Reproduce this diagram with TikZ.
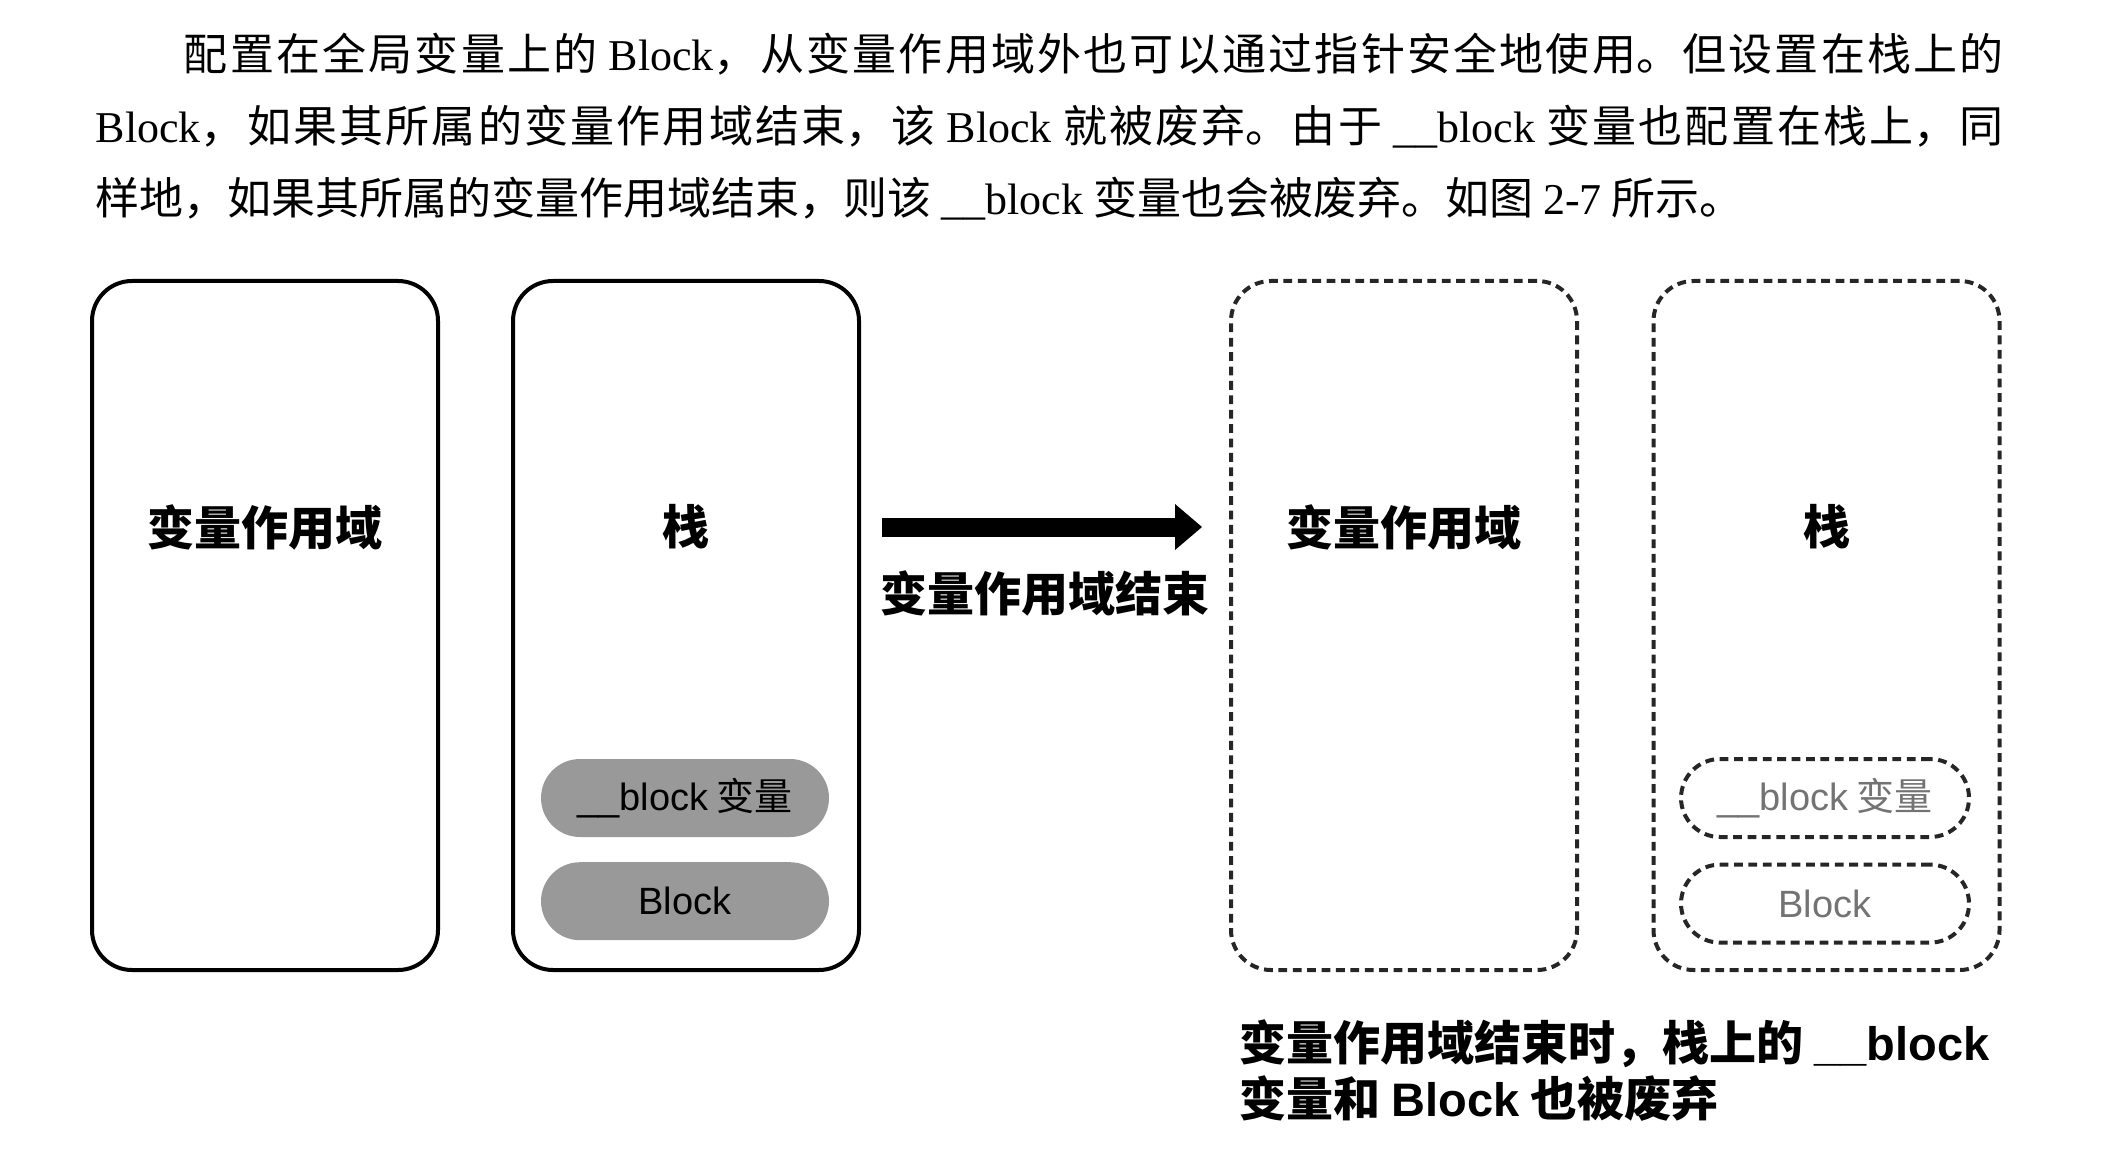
\documentclass[tikz,border=0pt]{standalone}
\usepackage{fontspec}
\setmainfont{Noto Sans CJK SC}
\newfontfamily\latinfont{Liberation Serif}
\newfontfamily\latinsans{Liberation Sans}
\usetikzlibrary{positioning,arrows.meta}
\XeTeXlinebreaklocale "zh"
\XeTeXlinebreakskip=0pt plus 2pt

\begin{document}
\begin{tikzpicture}[x=0.25pt,y=-0.25pt,
    frame/.style={draw, line width=1pt, rounded corners=10pt, minimum width=86.5pt, minimum height=172.25pt},
    gone/.style={frame, draw=black!85, dash pattern=on 2.2pt off 1.4pt},
    title/.style={inner sep=0pt, font=\bfseries\fontsize{11.75}{14}\selectfont},
    pill/.style={rounded corners=9.75pt, minimum width=72pt, minimum height=19.5pt, inner sep=0pt, font=\fontsize{9.5}{11}\selectfont},
    oldpill/.style={pill, draw=black!85, line width=1pt, dash pattern=on 2.2pt off 1.4pt, text=black!55}
  ]
  \useasboundingbox (0,0) rectangle (2126,1154);

  % text above the figure
  \node[anchor=base west, inner sep=0pt, text width=477pt, align=justify, font=\fontsize{11}{18}\selectfont] (para) at (95,71)
    {\hspace*{2em}配置在全局变量上的 {\latinfont Block}，从变量作用域外也可以通过指针安全地使用。但设置在栈上的\linebreak
     {\latinfont Block}，如果其所属的变量作用域结束，该 {\latinfont Block} 就被废弃。由于 {\latinfont\_\_block} 变量也配置在栈上，同\linebreak
     样地，如果其所属的变量作用域结束，则该 {\latinfont\_\_block} 变量也会被废弃。如图 {\latinfont 2-7} 所示。};

  % boxes, before and after
  \foreach \n/\x/\s/\t in {scope/265/frame/变量作用域, stack/686/frame/栈, oldscope/1404/gone/变量作用域, oldstack/1826.5/gone/栈} {
    \node[\s] (\n) at (\x,625.5) {};
    \node[title] (\n-title) at (\x,527) {\t};
  }

  \node[pill, fill=black!40] (var) at (685,798) {{\latinsans\_\_block} 变量};
  \node[pill, fill=black!40, below=5.9pt of var] (blk) {\latinsans Block};
  \node[oldpill] (oldvar) at (1825,798) {{\latinsans\_\_block} 变量};
  \node[oldpill, below=5.9pt of oldvar] (oldblk) {\latinsans Block};

  \draw[line width=4.75pt, -{Triangle[length=6.75pt,width=11.5pt,line width=0pt]}, shorten <=5.25pt, shorten >=6.75pt]
    (stack.east |- stack-title) -- node[title, below=8.6pt] (ends) {变量作用域结束} (oldscope.west |- oldscope-title);

  \node[title, align=left, below right=11.75pt and 2.5pt of oldscope.south west] (note)
    {变量作用域结束时，栈上的 {\latinsans\_\_block}\\变量和 {\latinsans Block} 也被废弃};

\end{tikzpicture}
\end{document}
